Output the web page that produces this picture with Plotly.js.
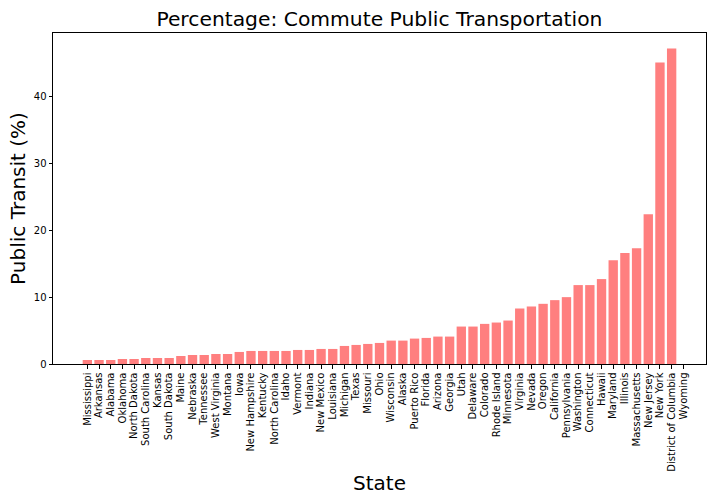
<!DOCTYPE html>
<html>
<head>
<meta charset="utf-8">
<script src="https://cdn.plot.ly/plotly-3.0.1.min.js"></script>
<style>body{margin:0;padding:0;background:#fff;} #chart{width:720px;height:504px;}</style>
</head>
<body>
<div id="chart"></div>
<script>
const states = ["Mississippi","Arkansas","Alabama","Oklahoma","North Dakota","South Carolina","Kansas","South Dakota","Maine","Nebraska","Tennessee","West Virginia","Montana","Iowa","New Hampshire","Kentucky","North Carolina","Idaho","Vermont","Indiana","New Mexico","Louisiana","Michigan","Texas","Missouri","Ohio","Wisconsin","Alaska","Puerto Rico","Florida","Arizona","Georgia","Utah","Delaware","Colorado","Rhode Island","Minnesota","Virginia","Nevada","Oregon","California","Pennsylvania","Washington","Connecticut","Hawaii","Maryland","Illinois","Massachusetts","New Jersey","New York","District of Columbia","Wyoming"];
const transitPct = [0.6,0.6,0.6,0.75,0.75,0.9,0.9,0.9,1.2,1.35,1.35,1.5,1.5,1.8,1.95,1.95,1.95,1.95,2.1,2.1,2.25,2.25,2.7,2.85,3.0,3.15,3.5,3.5,3.8,3.9,4.1,4.1,5.6,5.6,6.0,6.2,6.5,8.3,8.6,9.0,9.55,10.0,11.8,11.8,12.7,15.5,16.6,17.3,22.4,45.1,47.2,null];
const yTicks = [0,10,20,30,40];

const trace = {
  type: 'bar',
  x: states,
  y: transitPct,
  marker: {color: 'rgb(255,127,127)', line: {width: 0}},
  hoverinfo: 'x+y'
};

const layout = {
  width: 720, height: 504,
  margin: {l: 53, r: 14, t: 33, b: 140, pad: 0},
  paper_bgcolor: '#fff', plot_bgcolor: '#fff',
  font: {family: 'DejaVu Sans', color: '#000', size: 10},
  bargap: 0.2,
  showlegend: false,
  title: {text: 'Percentage: Commute Public Transportation', font: {size: 20.3, family: 'DejaVu Sans'}, x: 0.527, xanchor: 'center', y: 0.962, yanchor: 'middle'},
  xaxis: {
    type: 'category',
    range: [-2.94, 52.94],
    tickmode: 'array',
    tickvals: states,
    ticktext: states,
    tickangle: -90,
    ticks: 'outside', ticklen: 3.5, tickwidth: 1, tickcolor: '#000',
    showline: true, mirror: true, linecolor: '#000', linewidth: 1,
    showgrid: false, zeroline: false,
    tickfont: {size: 10},
    title: {text: 'State', font: {size: 20}, standoff: 5}
  },
  yaxis: {
    range: [0, 49.5],
    tickvals: yTicks,
    ticks: 'outside', ticklen: 3.5, tickwidth: 1, tickcolor: '#000',
    showline: true, mirror: true, linecolor: '#000', linewidth: 1,
    showgrid: false, zeroline: false,
    tickfont: {size: 10},
    title: {text: 'Public Transit (%)', font: {size: 20}, standoff: 2}
  }
};

Plotly.newPlot('chart', [trace], layout, {staticPlot: true, displayModeBar: false});
</script>
</body>
</html>
